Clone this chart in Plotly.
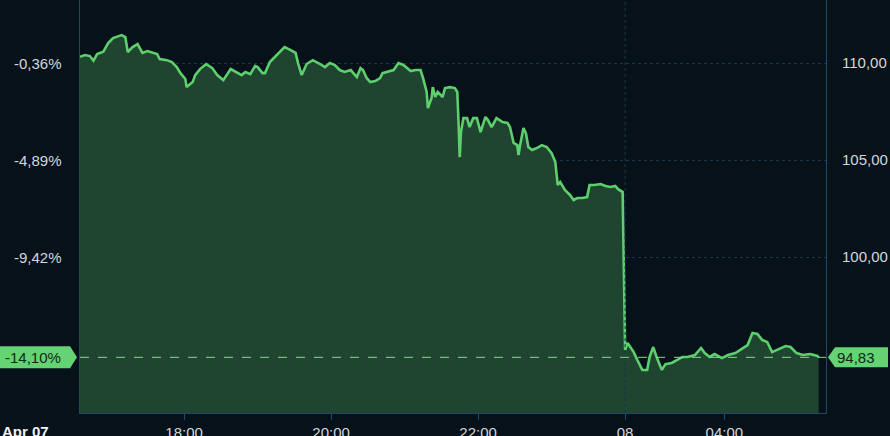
import plotly.graph_objects as go

# ---------------- data ----------------
times_apr07 = ["16:35","16:39","16:43","16:46","16:49","16:54","16:58","17:02","17:09","17:12",
               "17:14","17:18","17:22","17:26","17:30","17:34","17:38","17:40","17:46","17:50",
               "17:54","17:57","18:01","18:02","18:07","18:09","18:13","18:18","18:23","18:27",
               "18:32","18:38","18:43","18:47","18:50","18:54","18:58","19:00","19:04","19:06",
               "19:10","19:14","19:18","19:22","19:27","19:31","19:33","19:36","19:40","19:45",
               "19:51","19:55","19:59","20:03","20:07","20:11","20:16","20:18","20:21","20:24",
               "20:26","20:29","20:32","20:36","20:40","20:42","20:47","20:51","20:55","20:59",
               "21:02","21:05","21:09","21:13","21:15","21:18","21:19","21:22","21:23","21:25",
               "21:27","21:31","21:33","21:37","21:41","21:43","21:44","21:45","21:46","21:48",
               "21:51","21:53","21:56","21:59","22:02","22:06","22:08","22:11","22:15","22:20",
               "22:24","22:26","22:29","22:32","22:33","22:34","22:37","22:39","22:41","22:44",
               "22:48","22:52","22:56","23:00","23:03","23:05","23:07","23:11","23:15","23:18",
               "23:21","23:25","23:29","23:31","23:35","23:40","23:44","23:48","23:52","23:54",
               "23:58"]
prices_apr07 = [110.32,110.41,110.36,110.12,110.46,110.58,111.03,111.29,111.44,111.34,
                110.57,110.82,110.98,110.52,110.62,110.52,110.46,110.21,110.15,110.05,
                109.79,109.48,109.18,108.76,109.02,109.38,109.69,109.95,109.74,109.38,
                109.12,109.69,109.54,109.38,109.54,109.43,109.85,109.79,109.48,109.48,
                110.05,110.31,110.57,110.82,110.67,110.52,110.00,109.38,109.95,110.15,
                109.95,109.79,110.00,109.90,109.64,109.54,109.64,109.48,109.28,109.74,
                109.64,109.23,109.02,109.07,109.23,109.48,109.59,109.64,110.00,109.90,
                109.74,109.59,109.64,109.64,109.23,108.51,107.68,108.20,108.76,108.25,
                108.51,108.25,108.71,108.76,108.71,108.51,106.96,105.15,106.44,107.16,
                107.16,106.70,107.16,107.16,106.44,107.22,107.06,106.70,107.16,106.96,
                106.91,106.70,105.88,105.77,105.26,105.67,106.65,106.39,105.67,105.52,
                105.62,105.77,105.67,105.36,104.90,103.71,103.87,103.45,103.20,102.94,
                103.04,103.04,103.09,103.71,103.71,103.76,103.66,103.61,103.66,103.51,
                103.35]
times_apr08 = ["02:39","02:41","02:43","02:46","02:49","02:53","02:57","02:59","03:02","03:05",
               "03:09","03:12","03:17","03:21","03:26","03:30","03:36","03:41","03:44","03:48",
               "03:52","03:58","04:03","04:09","04:14","04:19","04:23","04:27","04:31","04:35",
               "04:39","04:44","04:50","04:54","04:59","05:04","05:10","05:16","05:17"]
prices_apr08 = [95.21,95.57,95.36,95.10,94.69,94.18,94.18,94.85,95.36,94.79,
                94.18,94.48,94.54,94.69,94.85,94.85,94.95,95.31,95.05,94.85,
                95.00,94.79,94.95,95.05,95.26,95.46,96.08,96.03,95.72,95.62,
                95.10,95.26,95.41,95.36,95.05,94.95,95.00,94.90,94.83]

last_price = 94.83
last_price_label = "94,83"
last_change_label = "-14,10%"

right_tick_vals = [100, 105, 110]
right_tick_text = ["100,00", "105,00", "110,00"]
left_tick_text = ["-9,42%", "-4,89%", "-0,36%"]

session_gap = ["2025-04-08 00:00", "2025-04-08 02:39"]
x_tick_vals = ["2025-04-07 18:00", "2025-04-07 20:00", "2025-04-07 22:00",
               session_gap[1], "2025-04-08 04:00"]
x_tick_text = ["18:00", "20:00", "22:00", "08", "04:00"]
start_label = "Apr 07"

x_range = ["2025-04-07 16:35", "2025-04-08 05:23"]
y_range = [91.96, 113.25]

assert len(times_apr07) == len(prices_apr07), (len(times_apr07), len(prices_apr07))
assert len(times_apr08) == len(prices_apr08)

x = ["2025-04-07 " + t for t in times_apr07] + ["2025-04-08 " + t for t in times_apr08]
y = prices_apr07 + prices_apr08

# ---------------- style ----------------
BG = "#06111a"
LINE = "#5dcf6d"
FILL = "#1f4430"
BORDER = "#1c4a66"
GRID = "#17384c"
TXT = "#d4d7da"
TAG = "#63d373"
FONT = "Liberation Sans, Arial, sans-serif"
FS = 15

fig = go.Figure()
fig.add_trace(go.Scatter(
    x=x, y=y, mode="lines",
    line=dict(color=LINE, width=2.6),
    fill="tozeroy", fillcolor=FILL,
    hoverinfo="skip", showlegend=False,
))

fig.update_layout(
    width=890, height=436,
    margin=dict(l=80, r=64, t=0, b=23, autoexpand=False),
    paper_bgcolor=BG, plot_bgcolor=BG,
    font=dict(family=FONT, size=FS, color=TXT),
    showlegend=False,
    xaxis=dict(
        type="date", range=x_range, automargin=False,
        rangebreaks=[dict(bounds=session_gap)],
        tickmode="array", tickvals=x_tick_vals, ticktext=x_tick_text,
        showgrid=False, zeroline=False,
        showline=True, linecolor=BORDER, linewidth=1, mirror=False,
        ticks="outside", ticklen=6, tickcolor=BORDER,
        tickfont=dict(family=FONT, size=FS, color=TXT),
    ),
    yaxis=dict(
        side="right", range=y_range, automargin=False,
        tickmode="array", tickvals=right_tick_vals, ticktext=right_tick_text,
        showgrid=True, gridcolor=GRID, griddash="dot", gridwidth=1,
        zeroline=False,
        showline=True, linecolor=BORDER, linewidth=1, mirror=True,
        ticks="", ticklabelstandoff=12,
        tickfont=dict(family=FONT, size=FS, color=TXT),
    ),
)

# left percentage labels, tied to the right-axis tick values
for v, lab in zip(right_tick_vals, left_tick_text):
    fig.add_annotation(x=0, xref="paper", xanchor="right", xshift=-16,
                       y=v, yref="y", yanchor="middle", text=lab, showarrow=False,
                       font=dict(family=FONT, size=FS, color=TXT))

# day boundary dotted line
fig.add_shape(type="line", xref="x", yref="paper", x0=session_gap[1], x1=session_gap[1],
              y0=0, y1=1, line=dict(color=GRID, width=1, dash="dot"), layer="above")

# last price dashed line
fig.add_shape(type="line", xref="paper", yref="y", x0=0, x1=1, y0=last_price, y1=last_price,
              line=dict(color="#86d692", width=1, dash="dash"), layer="above")

# right price tag
fig.add_shape(type="path", xref="paper", yref="y",
              xsizemode="pixel", xanchor=1, ysizemode="pixel", yanchor=last_price,
              path="M 2,0 L 9,10 L 62,10 L 62,-10 L 9,-10 Z",
              fillcolor=TAG, line=dict(width=0), layer="above")
fig.add_annotation(x=1, xref="paper", xanchor="left", xshift=9,
                   y=last_price, yref="y", yanchor="middle", text=last_price_label,
                   showarrow=False, font=dict(family=FONT, size=FS, color="#0d2a16"))

# left change tag
fig.add_shape(type="path", xref="paper", yref="y",
              xsizemode="pixel", xanchor=0, ysizemode="pixel", yanchor=last_price,
              path="M -3,0 L -10,11 L -82,11 L -82,-11 L -10,-11 Z",
              fillcolor=TAG, line=dict(width=0), layer="above")
fig.add_annotation(x=0, xref="paper", xanchor="right", xshift=-17,
                   y=last_price, yref="y", yanchor="middle", text=last_change_label,
                   showarrow=False, font=dict(family=FONT, size=FS, color="#0d2a16"))

# start date label
fig.add_annotation(x=0, xref="paper", xanchor="left", xshift=-80,
                   y=0, yref="paper", yanchor="middle", yshift=-18,
                   text="<b>" + start_label + "</b>", showarrow=False,
                   font=dict(family=FONT, size=FS, color="#f2f2f2"))

fig.write_html("out.html",
               config={"displayModeBar": False},
               post_script="document.body.style.margin='0';document.body.style.background='" + BG + "';")
